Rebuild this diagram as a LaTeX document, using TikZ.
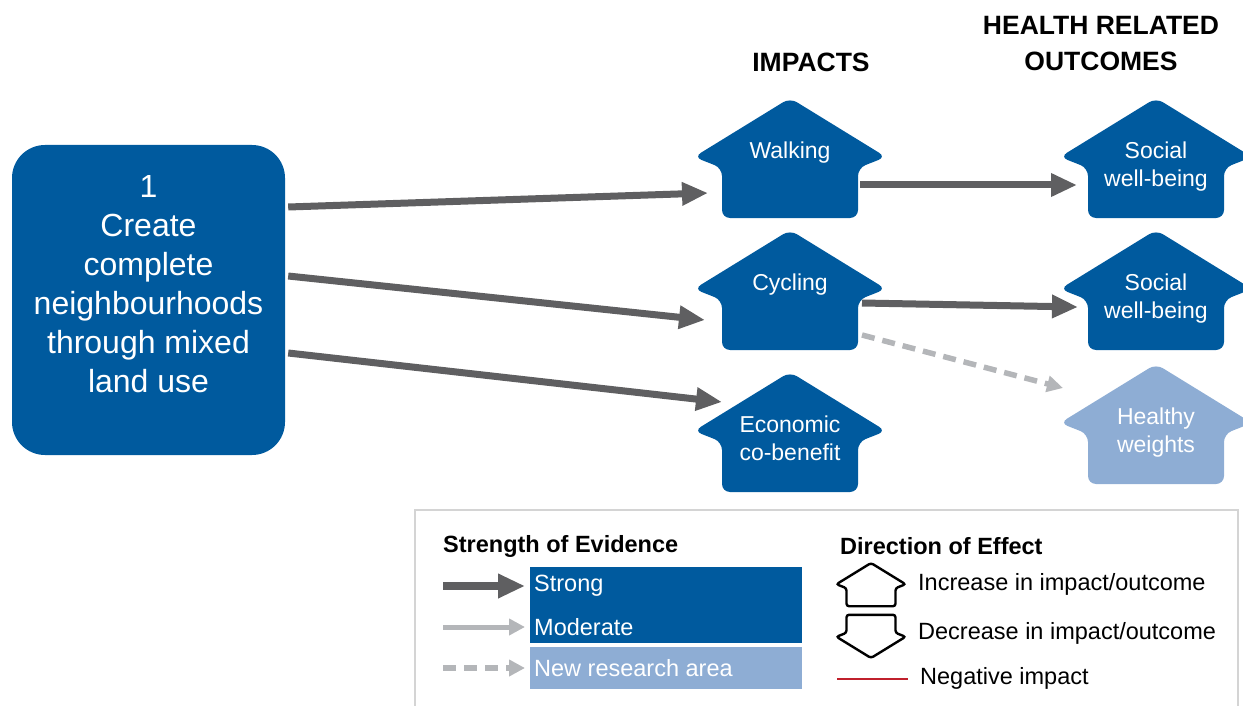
\documentclass[tikz,border=0pt]{standalone}
\usepackage{fontspec}
\setmainfont{Liberation Sans}
\usetikzlibrary{arrows.meta}
\definecolor{hblue}{RGB}{0,90,158}
\definecolor{lblue}{RGB}{142,173,212}
\definecolor{agray}{RGB}{95,95,97}
\definecolor{lgray}{RGB}{180,182,185}
\definecolor{nred}{RGB}{192,32,44}
\definecolor{frame}{RGB}{212,212,212}
\tikzset{
  house radius/.initial=8pt,
  house/.pic={\path[rounded corners=\pgfkeysvalueof{/tikz/house radius},pic actions] (0,120) -- (68,120) -- (68,70) -- (96,59) -- (0,0) -- (-96,59) -- (-68,70) -- (-68,120) -- cycle;},
  htext/.style={anchor=north, inner sep=0pt, text=white, align=center, font=\fontsize{23}{28}\selectfont},
  hdr/.style={align=center, inner sep=0pt, font=\bfseries\fontsize{26.5}{36}\selectfont},
  lgtext/.style={anchor=west, inner sep=0pt, font=\fontsize{23.5}{28}\selectfont},
  icon/.style={draw=black, line width=2.4pt, house radius=2.5pt},
  strongarr/.style={draw=agray, line width=7pt, -{Triangle[length=26pt,width=22pt]}},
  modarr/.style={draw=lgray, line width=5pt, -{Triangle[length=16pt,width=16pt]}},
  newarr/.style={draw=lgray, line width=5.5pt, dash pattern=on 13pt off 8pt, -{Triangle[length=16pt,width=16pt]}}
}
\begin{document}
\begin{tikzpicture}[x=1pt,y=-1pt]
\useasboundingbox (0,0) rectangle (1243,706);

\node[fill=hblue, rounded corners=33pt, minimum width=273pt, minimum height=310pt] (box) at (148.5,300) {};
\node[align=center, inner sep=0pt, text=white, font=\fontsize{32}{39}\selectfont] (boxtxt) at (148.5,284) {1\\Create\\complete\\neighbourhoods\\through mixed\\land use};

\node[hdr] (impacts) at (811,62) {IMPACTS};
\node[hdr] (outcomes) at (1101,44) {HEALTH RELATED\\OUTCOMES};

\foreach \n/\x/\y/\c/\t in {walk/790/98/hblue/Walking, cyc/790/230/hblue/Cycling, econ/790/372/hblue/{Economic\\co-benefit}, soc1/1156/98/hblue/{Social\\well-being}, soc2/1156/230/hblue/{Social\\well-being}, hw/1156/364/lblue/{Healthy\\weights}}{
  \pic[fill=\c] at (\x,\y) {house};
  \node[htext] (\n) at (\x,\y+44) {\t};
}

\draw[strongarr] ([shift={(3,-93)}]box.east) -- ([shift={(-82,51)}]walk.north);
\draw[strongarr] ([shift={(3,-24)}]box.east) -- ([shift={(-85,46)}]cyc.north);
\draw[strongarr] ([shift={(3,53)}]box.east) -- ([shift={(-68,-14)}]econ.north);
\draw[strongarr] ([shift={(70,43)}]walk.north) -- ([shift={(-79,43)}]soc1.north);
\draw[strongarr] ([shift={(72,29)}]cyc.north) -- ([shift={(-78,33)}]soc2.north);
\draw[newarr] ([shift={(72,61)}]cyc.north) -- ([shift={(-93,-20)}]hw.north);

\draw[frame, line width=1.5pt] (415,510) rectangle (1238,730);
\node[lgtext, font=\bfseries\fontsize{23.5}{28}\selectfont] (soe) at (443,546) {Strength of Evidence};
\node[lgtext, font=\bfseries\fontsize{23.5}{28}\selectfont] (doe) at (840,546) {Direction of Effect};
\fill[hblue] (530,567) rectangle (802,643);
\fill[lblue] (530,647) rectangle (802,689);
\node[lgtext, text=white] (strong) at (534,586) {Strong};
\node[lgtext, text=white] (moderate) at (534,627) {Moderate};
\node[lgtext, text=white] (newarea) at (534,668) {New research area};
\draw[strongarr, line width=8pt, -{Triangle[length=27pt,width=23pt]}] ([xshift=-91pt]strong.west) -- ([xshift=-9pt]strong.west);
\draw[modarr] ([xshift=-91pt]moderate.west) -- ([xshift=-9pt]moderate.west);
\draw[newarr] ([xshift=-91pt]newarea.west) -- ([xshift=-9pt]newarea.west);

\pic[icon, scale=0.36] at (871,563) {house};
\pic[icon, xscale=0.36, yscale=-0.36] at (871,658) {house};
\node[lgtext] (incr) at (918,584) {Increase in impact/outcome};
\node[lgtext] (decr) at (918,633) {Decrease in impact/outcome};
\node[lgtext] (neg) at (920,678) {Negative impact};
\draw[nred, line width=2.5pt] ([xshift=-83pt,yshift=-1pt]neg.west) -- ([xshift=-12pt,yshift=-1pt]neg.west);
\end{tikzpicture}
\end{document}
